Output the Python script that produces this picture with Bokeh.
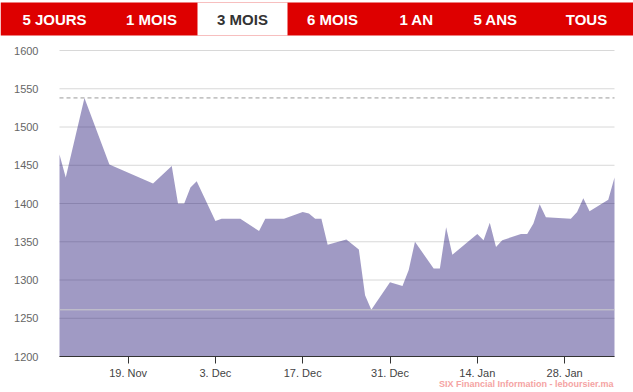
import pandas as pd
from bokeh.plotting import figure
from bokeh.models import (Range1d, FixedTicker, LinearAxis, DatetimeAxis,
                          ColumnDataSource)
from bokeh.core.properties import value
from bokeh.embed import file_html
from bokeh.resources import INLINE

# ---- data ----
dates = ["2018-11-08", "2018-11-09", "2018-11-12", "2018-11-16", "2018-11-23",
         "2018-11-26", "2018-11-27", "2018-11-28", "2018-11-29", "2018-11-30",
         "2018-12-03", "2018-12-04", "2018-12-07", "2018-12-10", "2018-12-11",
         "2018-12-14", "2018-12-17", "2018-12-18", "2018-12-19", "2018-12-20",
         "2018-12-21", "2018-12-24", "2018-12-26", "2018-12-27", "2018-12-28",
         "2018-12-31", "2019-01-02", "2019-01-03", "2019-01-04", "2019-01-07",
         "2019-01-08", "2019-01-09", "2019-01-10", "2019-01-14", "2019-01-15",
         "2019-01-16", "2019-01-17", "2019-01-18", "2019-01-21", "2019-01-22",
         "2019-01-23", "2019-01-24", "2019-01-25", "2019-01-29", "2019-01-30",
         "2019-01-31", "2019-02-01", "2019-02-04", "2019-02-05"]
values = [1464, 1434, 1538, 1451, 1426, 1449, 1400, 1400, 1421, 1429,
          1377, 1380, 1380, 1364, 1380, 1380, 1389, 1387, 1380, 1380,
          1346, 1353, 1340, 1280, 1261, 1297, 1292, 1313, 1350, 1315,
          1315, 1369, 1333, 1360, 1352, 1375, 1343, 1352, 1360, 1360,
          1374, 1399, 1382, 1380, 1389, 1407, 1390, 1405, 1434]
tick_dates = ["2018-11-19", "2018-12-03", "2018-12-17", "2018-12-31", "2019-01-14", "2019-01-28"]
tick_labels = ["19. Nov", "3. Dec", "17. Dec", "31. Dec", "14. Jan", "28. Jan"]
y_ticks = [1200, 1250, 1300, 1350, 1400, 1450, 1500, 1550, 1600]
tabs = ["5 JOURS", "1 MOIS", "3 MOIS", "6 MOIS", "1 AN", "5 ANS", "TOUS"]
selected_tab = "3 MOIS"
credit = "SIX Financial Information - leboursier.ma"

# ---- layout constants (page pixels) ----
W, H = 633, 392
PLOT_L, PLOT_R, PLOT_T, PLOT_B = 59, 614, 50, 356
BAR_TOP, BAR_BOTTOM, TEXT_Y = 2, 35, 18.5
tab_edges = [0, 98, 197, 287, 377, 456, 536, 633]
tab_centers = [54, 151, 242, 332, 416, 495, 586]
CREDIT_X, CREDIT_Y = 613, 383
FONT = "Liberation Sans"

x = pd.to_datetime(dates)
ms = [int(t.value // 10**6) for t in x]
t0, t1 = ms[0], ms[-1]
ticks_ms = [int(pd.Timestamp(d).value // 10**6) for d in tick_dates]
y0, y1 = y_ticks[0], y_ticks[-1]

# the frame covers the whole canvas; data ranges are extended so that the
# plot area sits at PLOT_L..PLOT_R / PLOT_T..PLOT_B
mpp = (t1 - t0) / (PLOT_R - PLOT_L)
upp = (y1 - y0) / (PLOT_B - PLOT_T)
x_range = Range1d(t0 - PLOT_L * mpp, t1 + (W - PLOT_R) * mpp)
y_range = Range1d(y0 - (H - PLOT_B) * upp, y1 + PLOT_T * upp)

p = figure(width=W, height=H, x_range=x_range, y_range=y_range,
           output_backend="svg", toolbar_location=None,
           x_axis_location=None, y_axis_location=None,
           min_border=0, outline_line_color=None)
p.grid.visible = False
p.extra_x_ranges = {"px": Range1d(0, W)}
p.extra_y_ranges = {"py": Range1d(H, 0)}

# horizontal grid lines
p.segment(x0=[t0] * len(y_ticks), x1=[t1] * len(y_ticks), y0=y_ticks, y1=y_ticks,
          line_color="#d8d8d8", line_width=1)

# area
p.varea(x=ms, y1=y0, y2=values, fill_color=(44, 31, 124), fill_alpha=0.45)

# max / min plot lines
p.segment(x0=[t0], x1=[t1], y0=[max(values)], y1=[max(values)],
          line_color="#999999", line_dash="4 3", line_width=1)
p.segment(x0=[t0], x1=[t1], y0=[min(values)], y1=[min(values)],
          line_color="#cccccc", line_width=1)

# axes
yaxis = LinearAxis(fixed_location=t0, bounds=(y0, y1), ticker=FixedTicker(ticks=y_ticks))
yaxis.axis_line_color = None
yaxis.major_tick_line_color = None
yaxis.minor_tick_line_color = None
yaxis.major_label_standoff = 15
yaxis.major_label_text_font = FONT
yaxis.major_label_text_font_size = "11px"
yaxis.major_label_text_color = "#666666"
p.add_layout(yaxis, "left")

xaxis = DatetimeAxis(fixed_location=y0, bounds=(t0, t1), ticker=FixedTicker(ticks=ticks_ms))
xaxis.major_label_overrides = {t: l for t, l in zip(ticks_ms, tick_labels)}
xaxis.axis_line_color = "#333333"
xaxis.major_tick_line_color = "#333333"
xaxis.major_tick_in = 0
xaxis.major_tick_out = 7
xaxis.minor_tick_line_color = None
xaxis.major_label_standoff = 3
xaxis.major_label_text_font = FONT
xaxis.major_label_text_font_size = "11px"
xaxis.major_label_text_color = "#444444"
p.add_layout(xaxis, "below")

# range selector tab bar (page-pixel ranges)
p.quad(left=[0], right=[W], top=[BAR_TOP], bottom=[BAR_BOTTOM],
       fill_color="#de0000", line_color=None, x_range_name="px", y_range_name="py")
si = tabs.index(selected_tab)
p.quad(left=[tab_edges[si]], right=[tab_edges[si + 1]], top=[BAR_TOP], bottom=[BAR_BOTTOM],
       fill_color="white", line_color=None, x_range_name="px", y_range_name="py")
tsrc = ColumnDataSource(dict(x=tab_centers, y=[TEXT_Y] * len(tabs), t=tabs,
                             c=["#333333" if t == selected_tab else "white" for t in tabs]))
p.text(x="x", y="y", text="t", source=tsrc, text_color="c",
       text_font=value(FONT), text_font_style="bold", text_font_size="15px",
       text_align="center", text_baseline="middle", x_range_name="px", y_range_name="py")

# credits
p.text(x=[CREDIT_X], y=[CREDIT_Y], text=[credit], text_color="#f5a3a3",
       text_font=value(FONT), text_font_style="bold", text_font_size="9px",
       text_align="right", text_baseline="middle", x_range_name="px", y_range_name="py")

open("out.html", "w").write(file_html(p, INLINE))
